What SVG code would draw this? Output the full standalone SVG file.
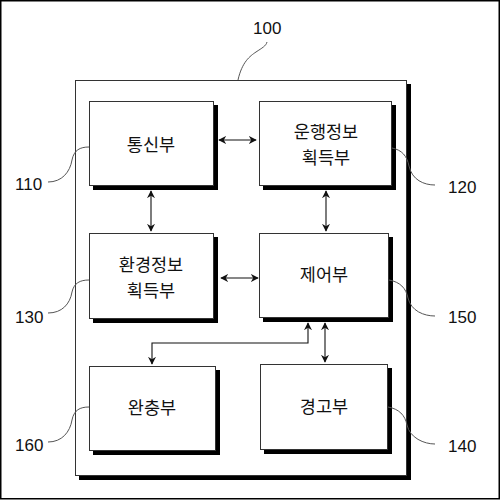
<svg xmlns="http://www.w3.org/2000/svg" width="500" height="500" viewBox="0 0 500 500">
<defs>
<style>
.box{fill:#fff;stroke:#333;stroke-width:1}
.sh{fill:#000}
.lbl{font-family:"Noto Sans CJK KR","Noto Sans",sans-serif;font-size:17.5px;fill:#111;text-anchor:middle}
.num{font-family:"Liberation Sans",Arial,sans-serif;font-size:17px;fill:#111}
.lead{fill:none;stroke:#555;stroke-width:1}
.con{fill:none;stroke:#111;stroke-width:1.1}
</style>
<marker id="ah" viewBox="0 0 10 10" refX="9" refY="5" markerWidth="8" markerHeight="8" markerUnits="userSpaceOnUse" orient="auto-start-reverse">
<path d="M0,0 L10,5 L0,10 L3,5 z" fill="#111"/>
</marker>
</defs>
<rect x="0.75" y="0.75" width="498.5" height="498" fill="#fff" stroke="#000" stroke-width="1.5"/>
<g id="n100">
<rect class="sh" x="79" y="84" width="332" height="396"/>
<rect class="box" x="75.5" y="80.5" width="331" height="395"/>
<path class="lead" d="M238,80 C242,62 250,56 256,52 C262,48 266,46 267,42"/>
<text class="num" x="253" y="34">100</text>
</g>
<g id="n110">
<rect class="sh" x="93" y="105" width="125" height="85"/>
<rect class="box" x="89.5" y="101.5" width="124" height="84"/>
<text class="lbl" x="151" y="151">통신부</text>
<path class="lead" d="M89,147 C80,147 74,150 72,160 C70,172 62,182 48,182"/>
<text class="num" x="15" y="190">110</text>
</g>
<g id="n120">
<rect class="sh" x="263" y="105" width="133" height="85"/>
<rect class="box" x="259.5" y="101.5" width="132" height="84"/>
<text class="lbl" x="326" y="138">운행정보</text>
<text class="lbl" x="326" y="164">획득부</text>
<path class="lead" d="M392,148 C402,150 407,156 409,166 C412,180 424,185 435,185"/>
<text class="num" x="448" y="193">120</text>
</g>
<g id="n130">
<rect class="sh" x="93" y="237" width="125" height="86"/>
<rect class="box" x="89.5" y="233.5" width="124" height="85"/>
<text class="lbl" x="151" y="271">환경정보</text>
<text class="lbl" x="151" y="297">획득부</text>
<path class="lead" d="M89,280 C80,280 74,283 72,292 C70,304 62,313 48,313"/>
<text class="num" x="15" y="323">130</text>
</g>
<g id="n150">
<rect class="sh" x="263" y="237" width="130" height="85"/>
<rect class="box" x="259.5" y="233.5" width="129" height="84"/>
<text class="lbl" x="324" y="281">제어부</text>
<path class="lead" d="M389,280 C400,282 406,288 408,298 C411,311 424,316 435,316"/>
<text class="num" x="448" y="323">150</text>
</g>
<g id="n160">
<rect class="sh" x="93" y="370" width="127" height="85"/>
<rect class="box" x="89.5" y="366.5" width="126" height="84"/>
<text class="lbl" x="152" y="414">완충부</text>
<path class="lead" d="M89,407 C80,407 74,410 72,420 C70,432 62,442 48,442"/>
<text class="num" x="15" y="451">160</text>
</g>
<g id="n140">
<rect class="sh" x="264" y="368" width="128" height="86"/>
<rect class="box" x="260.5" y="364.5" width="127" height="85"/>
<text class="lbl" x="324" y="413">경고부</text>
<path class="lead" d="M388,407 C399,409 405,415 407,425 C410,438 424,444 435,444"/>
<text class="num" x="448" y="452">140</text>
</g>
<g id="connectors">
<line class="con" x1="219" y1="140" x2="256" y2="140" marker-start="url(#ah)" marker-end="url(#ah)"/>
<line class="con" x1="151" y1="191" x2="151" y2="231" marker-start="url(#ah)" marker-end="url(#ah)"/>
<line class="con" x1="326" y1="191" x2="326" y2="231" marker-start="url(#ah)" marker-end="url(#ah)"/>
<line class="con" x1="221" y1="278" x2="258" y2="278" marker-start="url(#ah)" marker-end="url(#ah)"/>
<polyline class="con" points="308,323 308,343 152,343 152,364" marker-start="url(#ah)" marker-end="url(#ah)"/>
<line class="con" x1="325" y1="323" x2="325" y2="362" marker-start="url(#ah)" marker-end="url(#ah)"/>
</g>
</svg>
